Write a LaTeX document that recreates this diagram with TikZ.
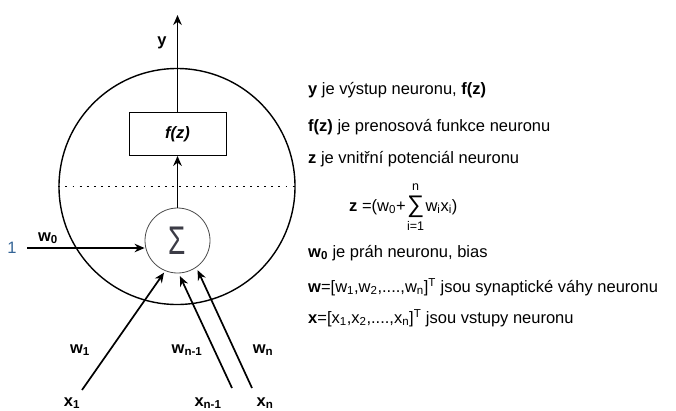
\documentclass[tikz,border=0pt]{standalone}
\usepackage{fontspec}
\setmainfont{Liberation Sans}
\usetikzlibrary{positioning, arrows.meta}
\definecolor{onecol}{RGB}{52,100,150}
\definecolor{sigcol}{RGB}{60,60,70}

\begin{document}
\begin{tikzpicture}[
    x=1pt, y=-1pt,
    every node/.style={font=\fontsize{16.5}{19}\selectfont, inner sep=0pt},
    arr/.style={draw, line width=1.7pt, -{Stealth[length=10pt, width=8.5pt]}},
    lbl/.style={font=\fontsize{16.5}{19}\selectfont\bfseries},
    desc/.style={anchor=west}
]
\useasboundingbox (0,0) rectangle (676,410);
% neuron body
\node[draw, circle, line width=1.4pt, minimum size=236pt] (neuron) at (177,186.5) {};
\draw[line width=1.9pt, dash pattern=on 1.9pt off 5.2pt] (neuron.west) -- (neuron.east);
\node[draw, line width=0.8pt, minimum width=97pt, minimum height=43pt,
      font=\fontsize{16.5}{19}\selectfont\bfseries\itshape] (fz) at (177.5,134) {f(z)};
\node[draw=black!70, circle, line width=0.8pt, minimum size=65pt, text=sigcol]
    (sigma) at (177.5,240.5) {\scalebox{0.7}[1]{\fontsize{40}{40}\selectfont Σ}};

% output
\coordinate (ytop) at (177.5,15);
\draw[arr] (fz.north) -- (ytop);
\draw[arr] (sigma.north) -- (fz.south);
\node[lbl] (ylab) at (162,43) {y};

% bias
\node[text=onecol] (one) at (12,248) {1};
\coordinate (onestart) at (27,248);
\draw[arr] (onestart) -- (onestart -| sigma.west);
\node[lbl] (w0) at (48,238) {w\textsubscript{0}};

% inputs
\coordinate (in1) at (82,390);
\coordinate (inm) at (232,388);
\coordinate (inn) at (252,388);
\draw[arr, shorten >=2pt] (in1) -- (sigma.-112);
\draw[arr, shorten >=3pt] (inm) -- (sigma.-88);
\draw[arr, shorten >=3pt] (inn) -- (sigma.-55);
\node[lbl] (w1) at (80,350) {w\textsubscript{1}};
\node[lbl] (wm) at (187,350) {w\textsubscript{n-1}};
\node[lbl] (wn) at (263,350) {w\textsubscript{n}};
\node[lbl] (x1) at (72,403) {x\textsubscript{1}};
\node[lbl] (xm) at (208,403) {x\textsubscript{n-1}};
\node[lbl] (xn) at (265,403) {x\textsubscript{n}};

% description
\node[desc] (d1) at (308,90) {\textbf{y} je výstup neuronu, \textbf{f(z)}};
\node[desc] (d2) at (308,127) {\textbf{f(z)} je prenosová funkce neuronu};
\node[desc] (d3) at (308,159) {\textbf{z} je vnitřní potenciál neuronu};
\node[desc] (zeq) at (349,207) {\textbf{z} =(w\textsubscript{0}+};
\node[right=1pt of zeq, font=\fontsize{24}{24}\selectfont] (sumsym) {∑};
\node[right=1pt of sumsym] (zrest) {w\textsubscript{i}x\textsubscript{i})};
\node[above=5pt of sumsym, font=\fontsize{12.5}{14}\selectfont] (sumtop) {n};
\node[below=3pt of sumsym, font=\fontsize{12.5}{14}\selectfont] (sumbot) {i=1};
\node[desc] (d4) at (308,253) {\textbf{w\textsubscript{0}} je práh neuronu, bias};
\node[desc] (d5) at (308,287) {\textbf{w}=[w\textsubscript{1},w\textsubscript{2},....,w\textsubscript{n}]\textsuperscript{T} jsou synaptické váhy neuronu};
\node[desc] (d6) at (308,318) {\textbf{x}=[x\textsubscript{1},x\textsubscript{2},....,x\textsubscript{n}]\textsuperscript{T} jsou vstupy neuronu};
\end{tikzpicture}
\end{document}
